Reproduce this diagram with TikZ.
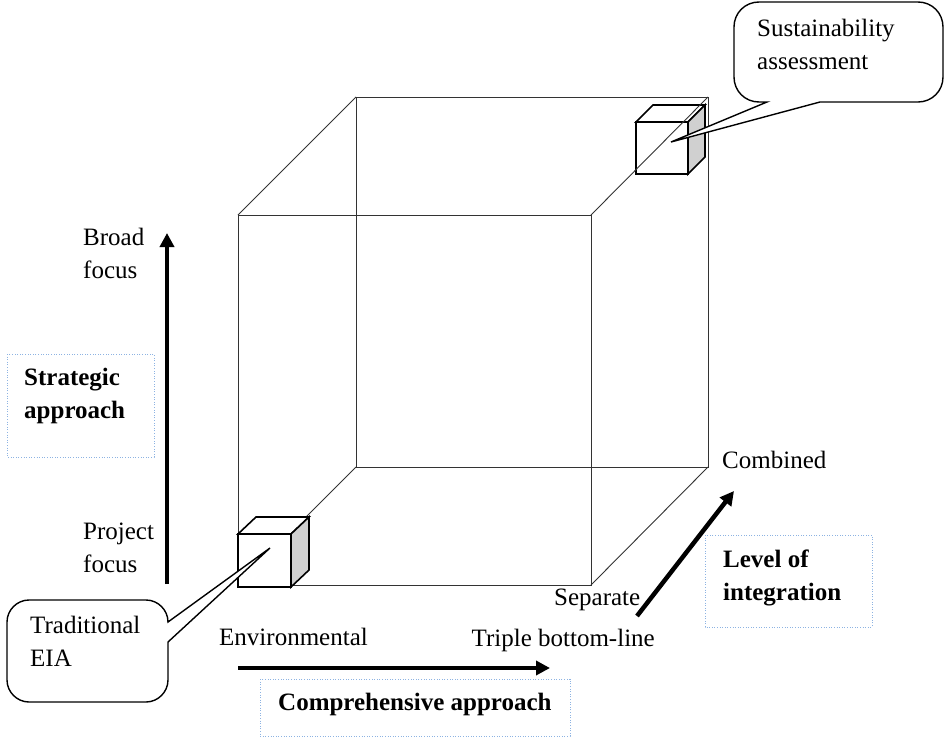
\documentclass[tikz,border=0pt]{standalone}
\usepackage{fontspec}
\setmainfont{Liberation Serif}
\usetikzlibrary{arrows.meta}
\definecolor{dotblue}{RGB}{141,179,226}
\definecolor{sidegray}{RGB}{208,208,208}
\begin{document}
\begin{tikzpicture}[x=1pt,y=-1pt,
  lbl/.style={anchor=base west, inner sep=0pt, align=left, font=\fontsize{25}{33}\selectfont},
  blbl/.style={lbl, font=\fontsize{25}{33}\selectfont\bfseries},
  wire/.style={line width=0.9pt, draw=black!80},
  cubeline/.style={line width=1.6pt, draw=black, line join=miter},
  callout/.style={line width=1.4pt, draw=black, fill=white, line join=miter},
  dotbox/.style={line width=1pt, draw=dotblue, dash pattern=on 1pt off 1.6pt},
  bigarrow/.style={line width=4.5pt, -{Triangle[length=14pt,width=14pt]}}]
\useasboundingbox (0,0) rectangle (946,739);

% big cube corners
\coordinate (f1) at (238,215); \coordinate (f2) at (591,215);
\coordinate (f3) at (591,585); \coordinate (f4) at (238,585);
\coordinate (b1) at (356,97);  \coordinate (b2) at (708,97);
\coordinate (b3) at (708,467); \coordinate (b4) at (356,467);

% top-right small cube
\filldraw[cubeline, fill=white] (636,122) -- (653,105) -- (705,105) -- (688,122) -- cycle;
\filldraw[cubeline, fill=sidegray] (688,122) -- (705,105) -- (705,157) -- (688,174) -- cycle;
\filldraw[cubeline, fill=white] (636,122) rectangle (688,174);

% big cube wireframe
\draw[wire] (f1) -- (f2) -- (f3) -- (f4) -- cycle;
\draw[wire] (b1) -- (b2) -- (b3) -- (b4) -- cycle;
\draw[wire] (f1) -- (b1);
\draw[wire] (f2) -- (b2);
\draw[wire] (f3) -- (b3);
\draw[wire] (f4) -- (b4);

% bottom-left small cube
\filldraw[cubeline, fill=white] (238,534) -- (256,517) -- (309,517) -- (291,534) -- cycle;
\filldraw[cubeline, fill=sidegray] (291,534) -- (309,517) -- (309,570) -- (291,587) -- cycle;
\filldraw[cubeline, fill=white] (238,534) rectangle (291,587);

% callouts
\coordinate (tipTR) at (671,142);
\coordinate (tipBL) at (270,548);
\filldraw[callout] (767,102) -- (tipTR) -- (820,102) -- (918,102)
  .. controls (932,102) and (943,91) .. (943,77) -- (943,27)
  .. controls (943,13) and (932,2) .. (918,2) -- (759,2)
  .. controls (745,2) and (734,13) .. (734,27) -- (734,77)
  .. controls (734,91) and (745,102) .. (759,102) -- cycle;
\filldraw[callout] (168,622) -- (tipBL) -- (168,642) -- (168,680)
  .. controls (168,692) and (158,702) .. (146,702) -- (29,702)
  .. controls (17,702) and (7,692) .. (7,680) -- (7,622)
  .. controls (7,610) and (17,600) .. (29,600) -- (146,600)
  .. controls (158,600) and (168,610) .. (168,622) -- cycle;

\node[lbl] (sust) at (757,69) {Sustainability\\assessment};
\node[lbl] (trad) at (30,666) {Traditional\\EIA};

% dotted boxes
\draw[dotbox] (7,354) rectangle (154,457);
\draw[dotbox] (705,535) rectangle (872,627);
\draw[dotbox] (260,679) rectangle (570,736);
\node[blbl] (strat) at (24,418) {Strategic\\approach};
\node[blbl] (level) at (723,600) {Level of\\integration};
\node[blbl] (comp) at (278,710) {Comprehensive approach};

% arrows
\coordinate (va0) at (167,584); \coordinate (va1) at (167,233);
\coordinate (ha0) at (238,668); \coordinate (ha1) at (550,668);
\coordinate (da0) at (637,616); \coordinate (da1) at (734,491);
\draw[bigarrow] (va0) -- (va1);
\draw[bigarrow] (ha0) -- (ha1);
\draw[bigarrow] (da0) -- (da1);

% axis labels
\node[lbl] (broad) at (83,278) {Broad\\focus};
\node[lbl] (proj) at (83,572) {Project\\focus};
\node[lbl] (env) at (219,645) {Environmental};
\node[lbl, anchor=base east] (triple) at (655,646) {Triple bottom-line};
\node[lbl] (sep) at (554,605) {Separate};
\node[lbl] (comb) at (722,468) {Combined};
\end{tikzpicture}
\end{document}
